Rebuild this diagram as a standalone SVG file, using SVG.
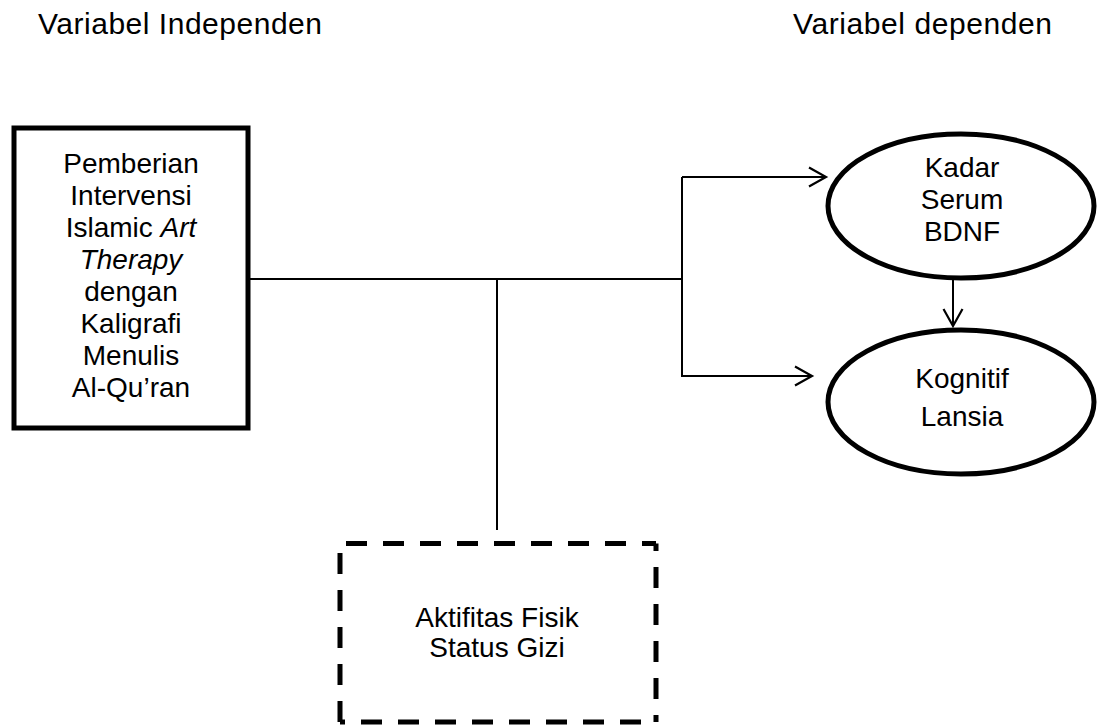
<svg xmlns="http://www.w3.org/2000/svg" width="1101" height="725" viewBox="0 0 1101 725">
  <defs>
    <marker id="arrow" markerUnits="userSpaceOnUse" markerWidth="24" markerHeight="24" viewBox="-20 -12 24 24" refX="0" refY="0" orient="auto" overflow="visible">
      <path d="M-17,-9.5 L0,0 L-17,9.5" fill="none" stroke="#000" stroke-width="2.2"/>
    </marker>
  </defs>
  <style>
    text { font-family: "Liberation Sans", Arial, sans-serif; font-size: 28px; fill: #000; }
    .c { text-anchor: middle; }
    .head { font-size: 30px; }
    .box { fill: #fff; stroke: #000; stroke-width: 5; }
    .conn { fill: none; stroke: #000; stroke-width: 2; }
    .dash { fill: none; stroke: #000; stroke-width: 5; stroke-dasharray: 21 16; }
  </style>
  <rect width="1101" height="725" fill="#fff"/>

  <!-- headers -->
  <g id="header-independen">
    <text class="head" x="38" y="34" textLength="284" lengthAdjust="spacing">Variabel Independen</text>
  </g>
  <g id="header-dependen">
    <text class="head" x="793" y="34" textLength="259" lengthAdjust="spacing">Variabel dependen</text>
  </g>

  <!-- connectors -->
  <g id="connectors">
    <path class="conn" d="M248,279 H682"/>
    <path class="conn" d="M682,177 V377"/>
    <path class="conn" d="M682,177 H826" marker-end="url(#arrow)"/>
    <path class="conn" d="M682,376 H812" marker-end="url(#arrow)"/>
    <path class="conn" d="M953,279 V326" marker-end="url(#arrow)"/>
    <path class="conn" d="M497,279 V530"/>
  </g>

  <!-- independent variable -->
  <g id="node-intervensi">
    <rect class="box" x="14" y="128" width="234" height="300"/>
    <text class="c" x="131" y="173">Pemberian</text>
    <text class="c" x="131" y="205">Intervensi</text>
    <text class="c" x="131" y="237">Islamic <tspan font-style="italic">Art</tspan></text>
    <text class="c" x="131" y="269" font-style="italic">Therapy</text>
    <text class="c" x="131" y="301">dengan</text>
    <text class="c" x="131" y="333">Kaligrafi</text>
    <text class="c" x="131" y="365">Menulis</text>
    <text class="c" x="131" y="397">Al-Qu’ran</text>
  </g>

  <!-- dependent variables -->
  <g id="node-bdnf">
    <ellipse class="box" cx="961" cy="206" rx="133" ry="72"/>
    <text class="c" x="962" y="177">Kadar</text>
    <text class="c" x="962" y="209">Serum</text>
    <text class="c" x="962" y="241">BDNF</text>
  </g>
  <g id="node-kognitif">
    <ellipse class="box" cx="961" cy="402" rx="133" ry="72"/>
    <text class="c" x="962" y="388">Kognitif</text>
    <text class="c" x="962" y="426">Lansia</text>
  </g>

  <!-- confounding variables (dashed box) -->
  <g id="node-perancu">
    <rect x="340" y="543.5" width="316" height="178.5" fill="#fff"/>
    <path class="dash" d="M346,543.5 H656"/>
    <path class="dash" d="M656,543.5 V722" stroke-dashoffset="13.5"/>
    <path class="dash" d="M340,553 V722"/>
    <path class="dash" d="M340,722 H656" stroke-dashoffset="16"/>
    <text class="c" x="497" y="627">Aktifitas Fisik</text>
    <text class="c" x="497" y="657">Status Gizi</text>
  </g>
</svg>
